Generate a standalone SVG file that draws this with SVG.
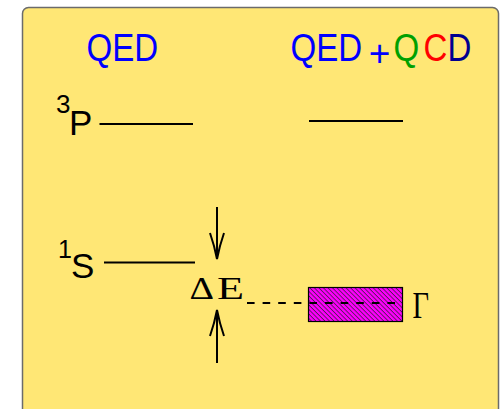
<svg xmlns="http://www.w3.org/2000/svg" width="501" height="409" viewBox="0 0 501 409">
<style>
.sans{font-family:"Liberation Sans",Arial,sans-serif;}
.serif{font-family:"Liberation Serif","Times New Roman",serif;}
.lvl{stroke:#000;stroke-width:2;fill:none;}
.arr{stroke:#000;stroke-width:2;fill:none;}
</style>
<defs>
<pattern id="hatch" width="3.2" height="3.2" patternUnits="userSpaceOnUse" patternTransform="rotate(45)">
<rect width="3.2" height="3.2" fill="#ff00ff"/>
<line x1="0" y1="0.5" x2="3.2" y2="0.5" stroke="#222" stroke-width="0.7"/>
</pattern>
</defs>
<rect id="panel" x="22.5" y="7.5" width="476" height="420" rx="6" ry="6" fill="#ffe775" stroke="#6b6b6b" stroke-width="1.5"/>
<g id="title-qed">
<text class="sans" transform="scale(0.86 1)" x="100.6" y="61" font-size="38.5" fill="#0000ff">QED</text>
</g>
<g id="title-qedqcd">
<text class="sans" transform="scale(0.86 1)" y="61" font-size="38.5"><tspan x="337.8" fill="#0000ff">QED</tspan><tspan x="457.6" fill="#00a000">Q</tspan><tspan x="492.5" fill="#ff0000">C</tspan><tspan x="520.5" fill="#000090">D</tspan></text>
<text class="sans" x="379.5" y="65.5" font-size="37" fill="#0000ff" text-anchor="middle">+</text>
</g>
<g id="level-3P">
<text class="sans" x="56" y="113" font-size="26" fill="#000">3</text>
<text class="sans" x="69" y="135" font-size="35" fill="#000">P</text>
<line class="lvl" x1="99.5" y1="124" x2="193" y2="124"/>
</g>
<g id="level-3P-qcd">
<line class="lvl" x1="309" y1="121" x2="403" y2="121"/>
</g>
<g id="level-1S">
<text class="sans" x="58" y="258" font-size="25" fill="#000">1</text>
<text class="sans" x="71" y="278" font-size="35" fill="#000">S</text>
<line class="lvl" x1="104" y1="262.5" x2="195" y2="262.5"/>
</g>
<g id="deltaE">
<text class="serif" x="189.5" y="298.5" font-size="32" fill="#000" textLength="24.5" lengthAdjust="spacingAndGlyphs">Δ</text>
<text class="serif" x="217" y="298.5" font-size="32" fill="#000" textLength="27" lengthAdjust="spacingAndGlyphs">E</text>
</g>
<g id="width-box">
<rect x="308.5" y="287.5" width="94" height="34" fill="url(#hatch)" stroke="#000" stroke-width="1.2"/>
<text class="serif" x="412.5" y="317.5" font-size="38" fill="#000" textLength="16.5" lengthAdjust="spacingAndGlyphs">Γ</text>
</g>
<g id="connectors">
<line class="arr" x1="217" y1="207" x2="217" y2="258"/>
<path class="arr" d="M210,233 Q214.5,246 217,259 Q219.5,246 224,233"/>
<line class="arr" x1="217" y1="363" x2="217" y2="312"/>
<path class="arr" d="M210,336 Q214.5,323 217,310 Q219.5,323 224,336"/>
<line x1="247" y1="303" x2="398" y2="303" stroke="#000" stroke-width="2" stroke-dasharray="7.6 8"/>
</g>
</svg>
